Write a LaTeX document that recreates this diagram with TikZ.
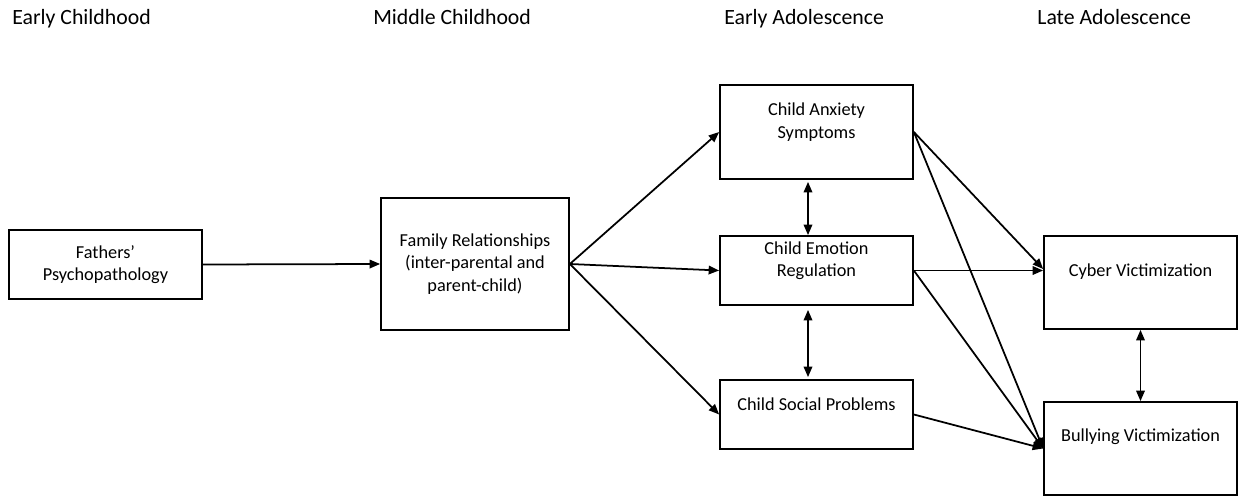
\documentclass[tikz,border=0pt]{standalone}
\usepackage{fontspec}
\setmainfont{Carlito}
\usepackage{tikz}
\usetikzlibrary{calc}
\usetikzlibrary{arrows.meta}

\begin{document}
\begin{tikzpicture}[x=0.02cm, y=-0.02cm,
        kotak/.style={draw, line width=1pt, inner sep=0pt, align=center, font=\fontsize{10.4}{12.8}\selectfont},
        teks/.style={inner sep=0pt, align=center, font=\fontsize{10.4}{12.8}\selectfont},
        judul/.style={anchor=base west, inner sep=0pt, font=\fontsize{12.4}{14}\selectfont},
        panah/.style={line width=1pt, -{Triangle[length=0.21cm,width=0.17cm]}},
        duapanah/.style={line width=1pt, {Triangle[length=0.21cm,width=0.17cm]}-{Triangle[length=0.21cm,width=0.17cm]}}]
        %BATAS
        \useasboundingbox (0,0) rectangle (1245,497);
        %JUDUL
        \node[judul] (earlychild) at (12,25) {Early Childhood};
        \node[judul] (middlechild) at (373,25) {Middle Childhood};
        \node[judul] (earlyadol) at (724,25) {Early Adolescence};
        \node[judul] (lateadol) at (1037,25) {Late Adolescence};
        %KOTAK
        \node[kotak, minimum width=3.86cm, minimum height=1.38cm] (fathers) at (105.5,264.5) {Fathers’\\Psychopathology};
        \node[kotak, minimum width=3.76cm, minimum height=2.64cm] (family) at (475,264) {Family Relationships\\(inter-parental and\\parent-child)};
        \node[kotak, minimum width=3.86cm, minimum height=1.88cm] (anxiety) at (816.5,132) {};
        \node[kotak, minimum width=3.86cm, minimum height=1.38cm] (emotion) at (816.5,270.5) {};
        \node[kotak, minimum width=3.86cm, minimum height=1.38cm] (social) at (816.5,414.5) {};
        \node[kotak, minimum width=3.86cm, minimum height=1.86cm] (cyber) at (1140.5,282.5) {};
        \node[kotak, minimum width=3.86cm, minimum height=1.86cm] (bullying) at (1140.5,448.5) {};
        %TEKS KOTAK
        \node[teks] (anxiety-txt) at (816.5,122) {Child Anxiety\\Symptoms};
        \node[teks] (emotion-txt) at (816.5,260.5) {Child Emotion\\Regulation};
        \node[teks] (social-txt) at (816.5,404) {Child Social Problems};
        \node[teks] (cyber-txt) at (1140.5,272) {Cyber Victimization};
        \node[teks] (bullying-txt) at (1140.5,437) {Bullying Victimization};
        %PANAH KIRI
        \draw[panah] (fathers.east) -- (family.west);
        \draw[panah] (family.east) -- (anxiety.west);
        \draw[panah] (family.east) -- (emotion.west);
        \draw[panah] (family.east) -- (social.west);
        %PANAH DUA ARAH
        \draw[duapanah, shorten <=0.04cm] ([xshift=-0.17cm]anxiety.south) -- ([xshift=-0.17cm]emotion.north);
        \draw[duapanah, shorten <=0.08cm, shorten >=0.04cm] ([xshift=-0.17cm]emotion.south) -- ([xshift=-0.17cm]social.north);
        \draw[duapanah] (cyber.south) -- (bullying.north);
        %PANAH KANAN
        \draw[panah] (anxiety.east) -- ([yshift=0.27cm]cyber.west);
        \draw[panah] (emotion.east) -- (emotion.east -| cyber.west);
        \draw[panah] (anxiety.east) -- (bullying.west);
        \draw[panah] (emotion.east) -- (bullying.west);
        \draw[panah] (social.east) -- (bullying.west);
\end{tikzpicture}
\end{document}
